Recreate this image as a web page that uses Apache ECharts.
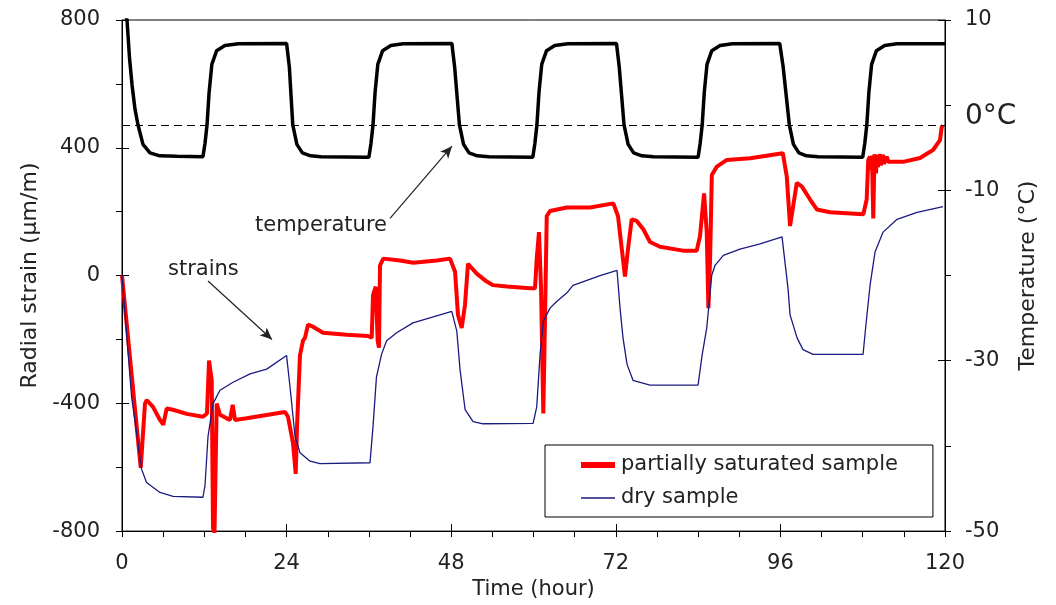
<!DOCTYPE html>
<html>
<head>
<meta charset="utf-8">
<script src="https://cdn.jsdelivr.net/npm/echarts@6/dist/echarts.min.js"></script>
<style>html,body{margin:0;padding:0;background:#fff}#c{width:1056px;height:605px}</style>
</head>
<body>
<div id="c"></div>
<script>
// ---- data (time in hours) ----
const seriesNames = ['partially saturated sample', 'dry sample', 'temperature'];
const xTickLabels = [0, 24, 48, 72, 96, 120];
const strainTickLabels = [-800, -400, 0, 400, 800];
const tempTickLabels = [-50, -30, -10, 10];
const freezeLineTemp = -2.35;

const temperature = [
  [0.35,11],[0.73,10],[1.1,5.5],[1.46,2.4],[1.9,-0.5],[2.33,-2.3],[3.06,-4.6],[4.08,-5.6],[5.5,-5.95],[8,-6.0],[11.8,-6.05],
  [12.1,-4.5],[12.4,-2.3],[12.7,1.5],[13.1,4.8],[13.8,6.4],[15,7.0],[17,7.2],[24.0,7.25],
  [24.4,4.5],[24.9,-2.3],[25.5,-4.6],[26.3,-5.6],[27.5,-5.95],[29,-6.05],[36.0,-6.1],
  [36.3,-4.5],[36.6,-2.3],[36.9,1.5],[37.3,4.8],[38.0,6.4],[39.2,7.0],[41,7.2],[48.1,7.25],
  [48.5,4.5],[49.2,-2.3],[49.8,-4.6],[50.6,-5.6],[51.8,-5.95],[53.5,-6.05],[59.9,-6.1],
  [60.2,-4.5],[60.5,-2.3],[60.8,1.5],[61.2,4.8],[61.9,6.4],[63.1,7.0],[65,7.2],[72.1,7.25],
  [72.5,4.5],[73.2,-2.3],[73.8,-4.6],[74.6,-5.6],[75.8,-5.95],[77.5,-6.05],[84.0,-6.1],
  [84.3,-4.5],[84.6,-2.3],[84.9,1.5],[85.3,4.8],[86.0,6.4],[87.2,7.0],[89,7.2],[95.9,7.25],
  [96.4,4.5],[97.3,-2.3],[97.9,-4.6],[98.7,-5.6],[99.8,-5.95],[101.5,-6.05],[108.0,-6.1],
  [108.3,-4.5],[108.6,-2.3],[108.9,1.5],[109.3,4.8],[110.0,6.4],[111.2,7.0],[113,7.2],[120,7.2]
];

const partiallySaturated = [
  [0,0],[2.73,-602],[3.35,-401],[3.60,-390],[4.52,-411],[5.54,-452],[6.02,-467],[6.52,-416],[7.44,-420],[9.43,-433],
  [11.81,-442],[12.39,-432],[12.69,-266],[13.08,-328],[13.27,-791],[13.49,-805],[13.81,-401],[14.29,-436],[15.27,-447],
  [15.75,-452],[16.14,-405],[16.48,-452],[18.18,-447],[23.77,-427],[24.20,-442],[24.93,-524],[25.33,-621],[25.52,-473],
  [25.95,-250],[26.39,-204],[26.68,-195],[27.12,-154],[27.66,-158],[29.31,-179],[32.76,-185],[35.87,-189],[36.41,-195],
  [36.60,-61],[36.99,-35],[37.28,-204],[37.47,-226],[37.62,32],[38.10,53],[40.54,47],[42.48,40],[45.89,47],[47.83,53],
  [48.56,12],[48.99,-123],[49.53,-164],[50.01,-92],[50.45,37],[51.72,6],[53.18,-19],[54.10,-30],[56.10,-34],[59.49,-40],
  [60.22,-40],[60.47,53],[60.80,136],[61.10,-40],[61.43,-432],[61.68,-133],[61.93,186],[62.41,202],[64.84,213],[68.24,213],
  [71.64,226],[72.32,186],[73.34,-3],[73.78,83],[74.32,176],[75.05,171],[76.01,145],[76.99,105],[78.45,90],[81.80,78],
  [83.80,78],[84.28,124],[84.87,257],[85.26,136],[85.50,-102],[85.75,53],[86.00,315],[86.73,341],[88.19,362],[91.59,367],
  [96.35,383],[96.93,310],[97.41,155],[97.66,151],[98.39,290],[99.12,279],[100.33,238],[101.31,207],[103.25,198],[108.09,192],
  [108.58,238],[108.81,362],[109.05,372],[109.20,330],[109.35,375],[109.54,179],[109.72,380],[109.94,320],[110.09,378],
  [110.23,340],[110.52,380],[110.67,345],[110.96,378],[111.11,350],[111.50,372],[111.74,356],[113.88,356],[116.36,368],
  [118.25,393],[119.27,424],[119.52,465],[119.71,470]
];

const drySample = [
  [0,0],[1.4,-380],[2.85,-606],[3.58,-648],[5.54,-679],[7.44,-691],[11.8,-694],[12.1,-658],[12.54,-504],[13.27,-401],
  [14.29,-359],[16.19,-334],[18.67,-308],[21.1,-293],[23.99,-250],[24.5,-349],[25.23,-504],[25.96,-555],[27.42,-581],
  [28.88,-589],[36.16,-586],[36.6,-473],[37.1,-318],[37.85,-246],[38.58,-204],[40.04,-179],[42.42,-148],[46.37,-123],
  [48.08,-112],[48.81,-173],[49.3,-297],[50.03,-420],[51.19,-457],[52.65,-464],[59.94,-463],[60.47,-411],[60.96,-246],
  [61.44,-143],[62.41,-102],[63.38,-81],[64.84,-55],[65.76,-31],[69.7,0],[72.18,16],[72.62,-102],[73.05,-195],[73.64,-278],
  [74.51,-328],[76.99,-343],[83.99,-343],[84.58,-250],[85.26,-164],[85.99,1],[86.47,32],[87.68,63],[90.11,83],[93.03,99],
  [96.24,121],[97.11,-40],[97.41,-123],[98.43,-195],[99.3,-232],[100.76,-247],[108.05,-247],[108.49,-150],[109.07,-31],
  [109.8,74],[110.97,136],[113.01,176],[115.93,198],[119.71,216]
];

// annotation arrows (data coordinates on strain axis)
const strainArrow = [[12.54,-17],[21.87,-200]];
const tempArrow = [[39.08,179],[48.11,405]];

const FONT = 'DejaVu Sans, Verdana, sans-serif';
const TXT = '#222';

const chart = echarts.init(document.getElementById('c'), null, {renderer: 'canvas'});
chart.setOption({
  animation: false,
  backgroundColor: '#fff',
  textStyle: {fontFamily: FONT},
  grid: {left: 122, right: 111, top: 20, bottom: 70, show: true, borderColor: '#000', borderWidth: 1, backgroundColor: 'transparent'},
  legend: {
    data: [
      {name: seriesNames[0], lineStyle: {width: 6, color: '#ff0000'}, itemStyle: {opacity: 0}},
      {name: seriesNames[1], lineStyle: {width: 1.5, color: '#1a1a80'}, itemStyle: {opacity: 0}}
    ],
    orient: 'vertical',
    left: 545, top: 445,
    padding: [9, 35, 8, 33],
    itemWidth: 34, itemHeight: 14, itemGap: 11,
    borderColor: '#000', borderWidth: 1, backgroundColor: '#fff',
    textStyle: {fontSize: 21, lineHeight: 22, color: TXT, fontFamily: FONT, padding: [0,0,0,1]}
  },
  xAxis: [
    {type: 'value', min: 0, max: 120, interval: 6, position: 'bottom',
     axisLine: {onZero: false, lineStyle: {color: '#000', width: 1}},
     axisTick: {show: true, inside: false, length: 6, lineStyle: {color: '#000'}},
     axisLabel: {fontSize: 21, color: TXT, margin: 22, formatter: v => xTickLabels.includes(v) ? String(v) : ''},
     splitLine: {show: false},
     name: 'Time (hour)', nameLocation: 'middle', nameGap: 47,
     nameTextStyle: {fontSize: 21, color: TXT}},
    {type: 'value', min: 0, max: 120, interval: 24, position: 'bottom',
     axisLine: {show: false, onZero: false}, axisTick: {show: true, inside: true, length: 7, lineStyle: {color: '#000'}},
     axisLabel: {show: false}, splitLine: {show: false}}
  ],
  yAxis: [
    {type: 'value', min: -800, max: 800, interval: 200, position: 'left',
     axisLine: {show: true, onZero: false, lineStyle: {color: '#000', width: 1}},
     axisTick: {show: true, inside: false, length: 6, lineStyle: {color: '#000'}},
     axisLabel: {fontSize: 21, color: TXT, margin: 22, formatter: v => strainTickLabels.includes(v) ? String(v) : ''},
     splitLine: {show: false},
     name: 'Radial strain (μm/m)', nameLocation: 'middle', nameGap: 80, nameRotate: 90,
     nameTextStyle: {fontSize: 22, color: TXT}},
    {type: 'value', min: -800, max: 800, interval: 400, position: 'left',
     axisLine: {show: false, onZero: false}, axisTick: {show: true, inside: true, length: 7, lineStyle: {color: '#000'}},
     axisLabel: {show: false}, splitLine: {show: false}},
    {type: 'value', min: -50, max: 10, interval: 10, position: 'right',
     axisLine: {show: true, onZero: false, lineStyle: {color: '#000', width: 1}},
     axisTick: {show: true, inside: false, length: 6, lineStyle: {color: '#000'}},
     axisLabel: {fontSize: 21, color: TXT, margin: 20, formatter: v => tempTickLabels.includes(v) ? String(v) : ''},
     splitLine: {show: false},
     name: 'Temperature (°C)', nameLocation: 'middle', nameGap: 72, nameRotate: 90,
     nameTextStyle: {fontSize: 22, color: TXT}},
    {type: 'value', min: -50, max: 10, interval: 20, position: 'right',
     axisLine: {show: false, onZero: false}, axisTick: {show: true, inside: true, length: 7, lineStyle: {color: '#000'}},
     axisLabel: {show: false}, splitLine: {show: false}}
  ],
  graphic: [
    {type: 'text', left: 965, top: 103, style: {text: '0°C', fontSize: 28, fill: TXT, fontFamily: FONT}},
    {type: 'text', left: 255, top: 215, style: {text: 'temperature', fontSize: 21, fill: TXT, fontFamily: FONT}},
    {type: 'text', left: 168, top: 259, style: {text: 'strains', fontSize: 21, fill: TXT, fontFamily: FONT}}
  ],
  series: [
    {name: seriesNames[2], type: 'line', xAxisIndex: 0, yAxisIndex: 2, data: temperature,
     showSymbol: false, symbol: 'none', lineStyle: {color: '#000', width: 3.5}, itemStyle: {color: '#000'}, z: 2,
     markLine: {silent: true, symbol: ['none','none'], label: {show: false},
       lineStyle: {color: '#000', type: [8,5], width: 1},
       data: [{yAxis: freezeLineTemp}]}},
    {name: seriesNames[0], type: 'line', xAxisIndex: 0, yAxisIndex: 0, data: partiallySaturated,
     showSymbol: false, symbol: 'none', lineStyle: {color: '#ff0000', width: 4}, itemStyle: {color: '#ff0000'}, z: 3,
     markLine: {silent: true, symbol: ['none','arrow'], symbolSize: [8, 12], label: {show: false},
       lineStyle: {color: '#222', type: 'solid', width: 1.2},
       data: [
         [{coord: strainArrow[0]}, {coord: strainArrow[1]}],
         [{coord: tempArrow[0]}, {coord: tempArrow[1]}]
       ]}},
    {name: seriesNames[1], type: 'line', xAxisIndex: 0, yAxisIndex: 0, data: drySample,
     showSymbol: false, symbol: 'none', lineStyle: {color: '#1a1a80', width: 1.3}, itemStyle: {color: '#1a1a80'}, z: 4}
  ]
});
</script>
</body>
</html>
